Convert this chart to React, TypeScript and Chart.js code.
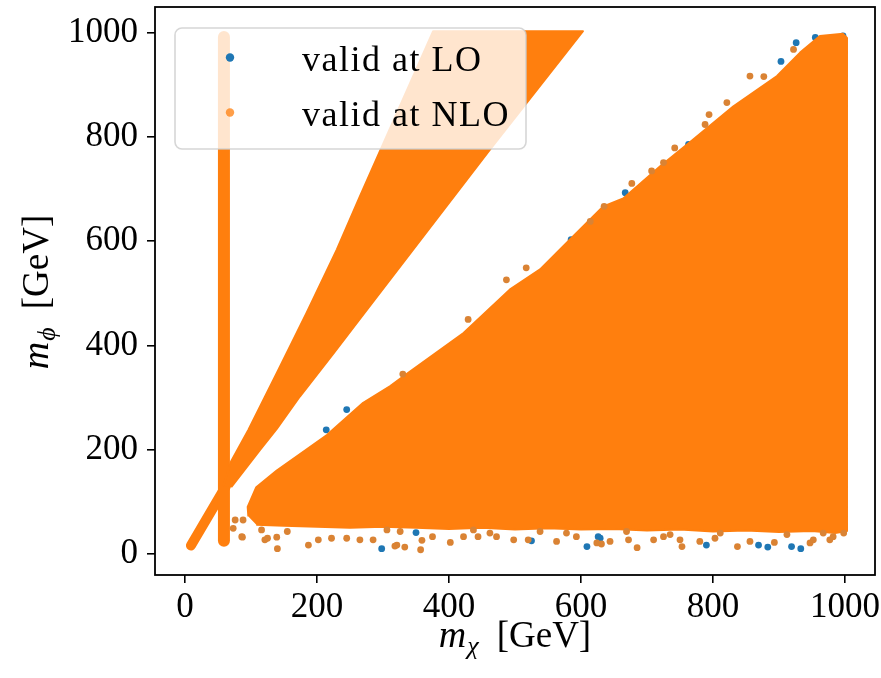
import React, { useEffect, useRef } from 'react';
import { Chart, registerables } from 'chart.js';

Chart.register(...registerables);

// ---------- axis ticks ----------
const xTicks = [0, 200, 400, 600, 800, 1000];
const xTickLabels = ['0', '200', '400', '600', '800', '1000'];
const yTicks = [0, 200, 400, 600, 800, 1000];
const yTickLabels = ['0', '200', '400', '600', '800', '1000'];

// ---------- axis titles & legend labels ----------
const xTitleSymbol = 'm';
const xTitleSub = 'χ';
const yTitleSymbol = 'm';
const yTitleSub = 'ϕ';
const titleUnit = '[GeV]';
const seriesLabels = ['valid at LO', 'valid at NLO'];

// ---------- dense NLO regions ----------
// vertical strip of valid points at m_chi ≈ 59 GeV (centre line)
const stripX = [59, 59];
const stripY = [25, 992];
// narrow diagonal band starting at the origin (centre line)
const bandX = [9, 62];
const bandY = [16, 130];
// upper wedge (outline)
const wedgeX = [58, 70, 96, 139, 184, 230, 265, 376, 603, 462, 265, 225, 174, 139, 114, 70];
const wedgeY = [130, 178, 238, 347, 462, 584, 686, 1003, 1003, 776, 451, 385, 302, 240, 200, 128];
// large lower triangle (outline)
const triX = [96, 95, 108, 139, 184, 215, 270, 311, 331, 422, 492, 538, 583, 634, 664, 720, 770, 831, 897, 932, 962, 997, 1003,
  1003, 985, 950, 900, 850, 800, 750, 700, 650, 600, 550, 500, 450, 400, 350, 300, 250, 200, 150, 108];
const triY = [72, 90, 128, 160, 200, 228, 290, 322, 341, 424, 507, 546, 603, 667, 682, 744, 795, 859, 917, 962, 994, 998, 990,
  44, 40, 44, 42, 45, 43, 47, 45, 48, 47, 49, 47, 50, 48, 50, 52, 50, 52, 54, 56];

// ---------- isolated points ----------
const loX = [298, 350, 525, 609, 626, 629, 790, 869, 883, 919, 933, 955, 997, 903, 926, 763, 667, 245, 214, 585];
const loY = [10, 41, 25, 14, 33, 30, 17, 17, 13, 14, 10, 991, 994, 945, 981, 786, 693, 277, 238, 603];
const nloX = [318, 333, 357, 359, 375, 402, 422, 444, 472, 498, 520, 563, 593, 631, 644, 685, 710, 753, 780, 837, 856, 893, 947, 977, 998,
  624, 672, 725, 750, 803, 952, 982, 140, 187, 121, 87, 155, 202, 222, 245, 265, 285, 321, 76, 88, 73, 86, 116, 125, 139,
  306, 326, 437, 462, 538, 578, 669, 735, 811, 912, 967,
  856, 877, 677, 794, 742, 635, 614, 517, 487, 429, 330, 821, 788, 707, 725, 922];
const nloY = [15, 13, 8, 26, 33, 22, 33, 33, 33, 27, 27, 24, 33, 19, 24, 12, 27, 14, 24, 14, 24, 22, 21, 27, 40,
  21, 27, 33, 27, 30, 27, 33, 10, 17, 27, 32, 43, 27, 30, 30, 27, 27, 17, 65, 65, 49, 33, 46, 30, 32,
  46, 43, 46, 40, 43, 40, 43, 37, 40, 37, 40,
  917, 916, 711, 843, 779, 667, 638, 549, 526, 450, 345, 866, 824, 735, 751, 968];

const FONT = "'Liberation Serif', 'DejaVu Serif', 'Times New Roman', serif";
const BLUE = '#1f77b4';
const ORANGE = '#ff7f0e';
const ORANGE_EDGE = 'rgb(218,131,52)';
const ORANGE_LEGEND = 'rgba(255,127,14,0.75)';

const pts = (xs: number[], ys: number[]) => xs.map((x, i) => ({ x, y: ys[i] }));

function drawMathTitle(ctx: CanvasRenderingContext2D, sym: string, sub: string, unit: string, cx: number, baseY: number) {
  const mainFont = `italic 38px ${FONT}`;
  const subFont = `italic 26px ${FONT}`;
  const unitFont = `37px ${FONT}`;
  ctx.font = mainFont;
  const wm = ctx.measureText(sym).width;
  ctx.font = subFont;
  const ws = ctx.measureText(sub).width;
  ctx.font = unitFont;
  const wu = ctx.measureText(unit).width;
  const gap = 18;
  const total = wm + 1 + ws + gap + wu;
  let x = cx - total / 2;
  ctx.textBaseline = 'alphabetic';
  ctx.textAlign = 'left';
  ctx.fillStyle = '#000';
  ctx.font = mainFont;
  ctx.fillText(sym, x, baseY);
  x += wm + 1;
  ctx.font = subFont;
  ctx.fillText(sub, x, baseY + 7);
  x += ws + gap;
  ctx.font = unitFont;
  ctx.fillText(unit, x, baseY);
}

const framePlugin = {
  id: 'mplFrame',
  afterDatasetsDraw(chart: any) {
    const { ctx, chartArea } = chart;
    ctx.save();
    ctx.strokeStyle = '#000';
    ctx.lineWidth = 1.8;
    ctx.strokeRect(chartArea.left, chartArea.top, chartArea.right - chartArea.left, chartArea.bottom - chartArea.top);
    ctx.restore();
  },
};

const titlesPlugin = {
  id: 'mplTitles',
  afterDraw(chart: any) {
    const { ctx, chartArea } = chart;
    const cx = (chartArea.left + chartArea.right) / 2;
    const cy = (chartArea.top + chartArea.bottom) / 2;
    ctx.save();
    drawMathTitle(ctx, xTitleSymbol, xTitleSub, titleUnit, cx, chartArea.bottom + 72);
    ctx.restore();
    ctx.save();
    ctx.translate(48, cy + 1);
    ctx.rotate(-Math.PI / 2);
    drawMathTitle(ctx, yTitleSymbol, yTitleSub, titleUnit, 0, 0);
    ctx.restore();
  },
};

const legendPlugin = {
  id: 'mplLegend',
  afterDraw(chart: any) {
    const { ctx, chartArea } = chart;
    const bx = chartArea.left + 20;
    const by = chartArea.top + 21;
    const bw = 351;
    const bh = 121;
    ctx.save();
    ctx.beginPath();
    ctx.roundRect(bx, by, bw, bh, 7);
    ctx.fillStyle = 'rgba(255,255,255,0.8)';
    ctx.fill();
    ctx.strokeStyle = 'rgba(204,204,204,0.8)';
    ctx.lineWidth = 1.6;
    ctx.stroke();
    const colors = [BLUE, ORANGE_LEGEND];
    seriesLabels.forEach((label, i) => {
      const my = by + 29.5 + i * 55;
      ctx.beginPath();
      ctx.arc(bx + 55, my, 4.2, 0, Math.PI * 2);
      ctx.fillStyle = colors[i];
      ctx.fill();
      ctx.fillStyle = '#000';
      ctx.font = `36px ${FONT}`;
      (ctx as any).letterSpacing = '1.5px';
      ctx.textBaseline = 'alphabetic';
      ctx.textAlign = 'left';
      ctx.fillText(label, bx + 127, by + 43 + i * 55);
      (ctx as any).letterSpacing = '0px';
    });
    ctx.restore();
  },
};

export default function App() {
  const canvasRef = useRef<HTMLCanvasElement | null>(null);

  useEffect(() => {
    document.body.style.margin = '0';
    const canvas = canvasRef.current;
    if (!canvas) return;

    const region = (xs: number[], ys: number[]) => ({
      label: 'NLO region',
      data: pts(xs, ys),
      showLine: true,
      fill: 'shape',
      backgroundColor: ORANGE,
      borderColor: ORANGE,
      borderWidth: 2,
      borderJoinStyle: 'round',
      pointRadius: 0,
      tension: 0,
      order: 1,
    });
    const thick = (xs: number[], ys: number[], w: number) => ({
      label: 'NLO region',
      data: pts(xs, ys),
      showLine: true,
      fill: false,
      borderColor: ORANGE,
      borderWidth: w,
      borderCapStyle: 'round',
      pointRadius: 0,
      tension: 0,
      order: 1,
    });

    const chart = new Chart(canvas, {
      type: 'scatter',
      data: {
        datasets: [
          {
            label: seriesLabels[1],
            data: pts(nloX, nloY),
            backgroundColor: ORANGE_EDGE,
            borderWidth: 0,
            pointRadius: 3.4,
            order: 0,
          },
          region(wedgeX, wedgeY) as any,
          region(triX, triY) as any,
          thick(stripX, stripY, 12) as any,
          thick(bandX, bandY, 10) as any,
          {
            label: seriesLabels[0],
            data: pts(loX, loY),
            backgroundColor: BLUE,
            borderWidth: 0,
            pointRadius: 3.4,
            order: 2,
          },
        ],
      },
      options: {
        responsive: false,
        animation: false,
        devicePixelRatio: 1,
        events: [],
        layout: { padding: { top: 7, right: 6, left: 0, bottom: 0 } },
        plugins: {
          legend: { display: false },
          tooltip: { enabled: false },
        },
        scales: {
          x: {
            type: 'linear',
            min: -45.45,
            max: 1045.45,
            afterBuildTicks: (axis: any) => {
              axis.ticks = xTicks.map((v) => ({ value: v }));
            },
            afterFit: (axis: any) => {
              axis.height = 103;
              axis.paddingLeft = 0;
              axis.paddingRight = 0;
            },
            ticks: {
              callback: (_v: any, i: number) => xTickLabels[i],
              font: { family: FONT, size: 35 },
              color: '#000',
              padding: 4,
              maxRotation: 0,
            },
            grid: { display: true, drawOnChartArea: false, drawTicks: true, tickLength: 8, color: '#000', lineWidth: 1.6 },
            border: { display: false },
          },
          y: {
            type: 'linear',
            min: -40.5,
            max: 1049.5,
            afterBuildTicks: (axis: any) => {
              axis.ticks = yTicks.map((v) => ({ value: v }));
            },
            afterFit: (axis: any) => {
              axis.width = 155;
              axis.paddingTop = 0;
              axis.paddingBottom = 0;
            },
            ticks: {
              callback: (_v: any, i: number) => yTickLabels[i],
              font: { family: FONT, size: 35 },
              color: '#000',
              padding: 9,
            },
            grid: { display: true, drawOnChartArea: false, drawTicks: true, tickLength: 8, color: '#000', lineWidth: 1.6 },
            border: { display: false },
          },
        },
      },
      plugins: [framePlugin, titlesPlugin, legendPlugin],
    } as any);

    return () => chart.destroy();
  }, []);

  return (
    <div style={{ position: 'absolute', left: 0, top: 0, width: 881, height: 678, background: '#fff' }}>
      <canvas ref={canvasRef} width={881} height={678} style={{ display: 'block' }} />
    </div>
  );
}
